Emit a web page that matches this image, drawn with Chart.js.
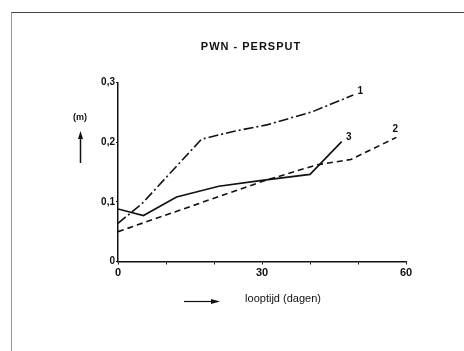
<!DOCTYPE html>
<html>
<head>
<meta charset="utf-8">
<script src="https://cdn.jsdelivr.net/npm/chart.js@4.4.1/dist/chart.umd.min.js"></script>
<style>
  html, body { margin: 0; padding: 0; background: #fff; }
  #wrap { width: 464px; height: 351px; }
</style>
</head>
<body>
<div id="wrap"><canvas id="perspChart" width="464" height="351"></canvas></div>
<script>
// gegevens
var titel = 'PWN - PERSPUT';
var xTitel = 'looptijd (dagen)';
var yTitel = '(m)';
var xLabels = [0, 30, 60];
var reeksNamen = ['1', '2', '3'];

// reeks 1 (streep-punt)
var dagen1 = [0, 5, 17.4, 24, 31, 40.5, 49];
var hoogte1 = [0.064, 0.097, 0.205, 0.218, 0.229, 0.251, 0.279];
// reeks 2 (gestreept)
var dagen2 = [0, 10, 20, 30, 41.4, 48.5, 58];
var hoogte2 = [0.05, 0.078, 0.106, 0.134, 0.162, 0.171, 0.208];
// reeks 3 (doorgetrokken)
var dagen3 = [0, 5.3, 12.2, 21, 30, 40, 46.6];
var hoogte3 = [0.088, 0.077, 0.108, 0.126, 0.136, 0.146, 0.201];

function punten(xs, ys) {
    return xs.map(function (x, i) { return { x: x, y: ys[i] }; });
}

var zwart = '#111';

// titel, pijlen, lijstnummers en kader
var tekenPlugin = {
    id: 'tekenPlugin',
    afterDraw: function (chart) {
        var ctx = chart.ctx;
        var xs = chart.scales.x, ys = chart.scales.y;
        ctx.save();

        // kader
        ctx.strokeStyle = '#444';
        ctx.lineWidth = 1;
        ctx.beginPath();
        ctx.moveTo(11, 12.5);
        ctx.lineTo(464, 12.5);
        ctx.stroke();
        ctx.strokeStyle = '#999';
        ctx.beginPath();
        ctx.moveTo(11.5, 12.5);
        ctx.lineTo(11.5, 351);
        ctx.stroke();

        ctx.fillStyle = zwart;
        ctx.strokeStyle = zwart;

        // titel
        ctx.font = 'bold 11px "Liberation Sans", Arial, sans-serif';
        ctx.letterSpacing = '1px';
        ctx.textAlign = 'center';
        ctx.textBaseline = 'middle';
        ctx.fillText(titel, 251, 47);
        ctx.letterSpacing = '0px';

        // y-as titel met pijl
        ctx.font = 'bold 9px "Liberation Sans", Arial, sans-serif';
        ctx.fillText(yTitel, 80, 117.5);
        ctx.lineWidth = 1.5;
        ctx.beginPath();
        ctx.moveTo(80.5, 163);
        ctx.lineTo(80.5, 138);
        ctx.stroke();
        ctx.beginPath();
        ctx.moveTo(80.5, 131);
        ctx.lineTo(78, 139);
        ctx.lineTo(83, 139);
        ctx.closePath();
        ctx.fill();

        // x-as titel met pijl
        ctx.font = '11px "Liberation Sans", Arial, sans-serif';
        ctx.fillText(xTitel, 283, 298.5);
        ctx.lineWidth = 1.2;
        ctx.beginPath();
        ctx.moveTo(184, 301.5);
        ctx.lineTo(212, 301.5);
        ctx.stroke();
        ctx.beginPath();
        ctx.moveTo(220, 301.5);
        ctx.lineTo(211, 299);
        ctx.lineTo(211, 304);
        ctx.closePath();
        ctx.fill();

        // nummers bij de lijnen
        var offsets = [[7, -4], [-1, -8], [7, -4]];
        ctx.font = 'bold 10px "Liberation Sans", Arial, sans-serif';
        chart.data.datasets.forEach(function (ds, i) {
            var p = ds.data[ds.data.length - 1];
            var px = xs.getPixelForValue(p.x) + offsets[i][0];
            var py = ys.getPixelForValue(p.y) + offsets[i][1];
            ctx.fillText(reeksNamen[i], px, py);
        });

        ctx.restore();
    }
};

function nulPadding(scale) {
    scale.paddingTop = 0;
    scale.paddingBottom = 0;
    scale.paddingLeft = 0;
    scale.paddingRight = 0;
}

var ctx = document.getElementById('perspChart').getContext('2d');
var chart = new Chart(ctx, {
    type: 'line',
    data: {
        datasets: [
            {
                label: reeksNamen[0],
                data: punten(dagen1, hoogte1),
                borderColor: zwart,
                borderWidth: 1.6,
                borderDash: [10, 3, 2, 3],
                pointRadius: 0,
                fill: false
            },
            {
                label: reeksNamen[1],
                data: punten(dagen2, hoogte2),
                borderColor: zwart,
                borderWidth: 1.6,
                borderDash: [6, 4],
                pointRadius: 0,
                fill: false
            },
            {
                label: reeksNamen[2],
                data: punten(dagen3, hoogte3),
                borderColor: zwart,
                borderWidth: 1.6,
                pointRadius: 0,
                fill: false
            }
        ]
    },
    options: {
        responsive: false,
        animation: false,
        layout: {
            padding: { left: 88, right: 58, top: 82.5, bottom: 69.5 }
        },
        plugins: {
            legend: { display: false },
            tooltip: { enabled: false },
            title: { display: false }
        },
        scales: {
            x: {
                type: 'linear',
                min: 0,
                max: 60,
                ticks: {
                    stepSize: 10,
                    padding: 2,
                    color: zwart,
                    font: { family: '"Liberation Sans", Arial, sans-serif', size: 11, weight: 'bold' },
                    maxRotation: 0,
                    callback: function (v) {
                        return xLabels.indexOf(v) >= 0 ? String(v) : '';
                    }
                },
                grid: { drawOnChartArea: false, drawTicks: true, tickLength: 3, color: zwart },
                border: { display: true, color: zwart, width: 1.5 },
                afterFit: function (scale) {
                    scale.height = 20;
                    nulPadding(scale);
                }
            },
            y: {
                min: 0,
                max: 0.3,
                ticks: {
                    stepSize: 0.1,
                    padding: 1,
                    color: zwart,
                    font: { family: '"Liberation Sans", Arial, sans-serif', size: 10, weight: 'bold' },
                    callback: function (v) {
                        var r = Math.round(v * 10) / 10;
                        return r === 0 ? '0' : r.toFixed(1).replace('.', ',');
                    }
                },
                grid: { drawOnChartArea: false, drawTicks: true, tickLength: 2, color: zwart },
                border: { display: true, color: zwart, width: 1.5 },
                afterFit: function (scale) {
                    scale.width = 30;
                    nulPadding(scale);
                }
            }
        }
    },
    plugins: [tekenPlugin]
});
</script>
</body>
</html>
